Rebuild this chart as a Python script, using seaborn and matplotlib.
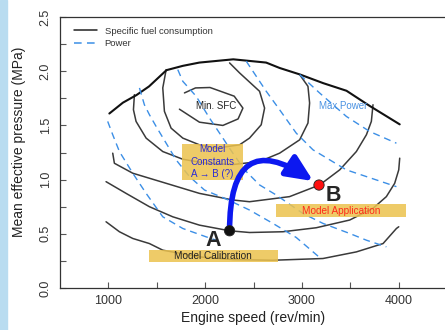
import matplotlib
matplotlib.use("Agg")
import matplotlib.pyplot as plt
import seaborn as sns
import pandas as pd
from matplotlib.lines import Line2D
from matplotlib.patches import Rectangle

# engine map: speed (rev/min) vs mean effective pressure (MPa)

# specific fuel consumption contours
sfc_outer_x = [1010, 1150, 1290, 1420, 1600, 1770, 1940, 2290, 2630, 2770, 2980, 3220, 3460, 3700, 4010]
sfc_outer_y = [1.61, 1.71, 1.78, 1.86, 2.01, 2.05, 2.08, 2.11, 2.08, 2.03, 1.97, 1.89, 1.82, 1.68, 1.51]

sfc_c1_x = [1786, 1900, 2050, 2300, 2390, 2340, 2183, 1941, 1734]
sfc_c1_y = [1.80, 1.846, 1.85, 1.77, 1.66, 1.56, 1.50, 1.53, 1.65]

sfc_c2_x = [1597, 1562, 1579, 1648, 1769, 1941, 2114, 2355, 2458, 2579, 2614, 2562, 2355, 2252]
sfc_c2_y = [2.015, 1.846, 1.63, 1.475, 1.383, 1.321, 1.29, 1.321, 1.383, 1.506, 1.66, 1.815, 1.985, 2.077]

sfc_c3_x = [1269, 1259, 1286, 1390, 1562, 1769, 2010, 2286, 2562, 2769, 2976, 3062, 3079, 3062, 2976]
sfc_c3_y = [1.784, 1.645, 1.537, 1.383, 1.259, 1.188, 1.151, 1.139, 1.167, 1.244, 1.367, 1.522, 1.707, 1.861, 1.969]

sfc_c4_x = [1045, 1062, 1252, 1597, 1941, 2286, 2458, 2872, 3183, 3390, 3562, 3666, 3717, 3734]
sfc_c4_y = [1.244, 1.151, 1.059, 0.966, 0.873, 0.812, 0.796, 0.843, 0.951, 1.09, 1.259, 1.414, 1.537, 1.691]

sfc_c5_x = [976, 1183, 1424, 1665, 1941, 2252, 2459, 2803, 3148, 3493, 3734, 3872, 3958, 4000, 4010]
sfc_c5_y = [0.981, 0.873, 0.75, 0.657, 0.58, 0.528, 0.512, 0.519, 0.556, 0.627, 0.735, 0.843, 0.966, 1.09, 1.198]

sfc_c6_x = [976, 1114, 1252, 1424, 1562, 1941, 2286, 2700, 3217, 3562, 3838, 3976, 4000]
sfc_c6_y = [0.611, 0.519, 0.457, 0.41, 0.349, 0.287, 0.262, 0.256, 0.272, 0.333, 0.41, 0.549, 0.565]

# constant power lines
pow_1_x = [993, 1045, 1114, 1252, 1390, 1562, 1769, 2010, 2114]
pow_1_y = [1.537, 1.414, 1.259, 1.059, 0.873, 0.657, 0.549, 0.472, 0.441]

pow_2_x = [1321, 1372, 1424, 1493, 1597, 1700, 1838, 1993, 2217, 2459, 2700, 2941, 3183]
pow_2_y = [1.846, 1.691, 1.599, 1.491, 1.336, 1.182, 1.028, 0.904, 0.821, 0.719, 0.596, 0.466, 0.281]

pow_3_x = [1717, 1769, 1907, 2045, 2183, 2286, 2407, 2562, 2734, 3010, 3217, 3493, 3666, 3872]
pow_3_y = [2.015, 1.907, 1.769, 1.568, 1.383, 1.244, 1.09, 0.951, 0.858, 0.688, 0.596, 0.503, 0.441, 0.38]

pow_4_x = [2424, 2631, 2769, 2941, 3114, 3459, 3769, 3976]
pow_4_y = [2.093, 1.815, 1.645, 1.429, 1.275, 1.09, 0.997, 0.935]

pow_5_x = [2976, 3183, 3459, 3700, 3976]
pow_5_y = [1.969, 1.799, 1.583, 1.444, 1.336]

# operating points
pt_names = ["A", "B"]
pt_x = [2252, 3176]
pt_y = [0.528, 0.95]

sfc_inner = {"c1": (sfc_c1_x, sfc_c1_y), "c2": (sfc_c2_x, sfc_c2_y), "c3": (sfc_c3_x, sfc_c3_y),
             "c4": (sfc_c4_x, sfc_c4_y), "c5": (sfc_c5_x, sfc_c5_y), "c6": (sfc_c6_x, sfc_c6_y)}
power = {"p1": (pow_1_x, pow_1_y), "p2": (pow_2_x, pow_2_y), "p3": (pow_3_x, pow_3_y),
         "p4": (pow_4_x, pow_4_y), "p5": (pow_5_x, pow_5_y)}


def long_df(curves):
    return pd.concat([pd.DataFrame({"speed": x, "pme": y, "curve": k}) for k, (x, y) in curves.items()],
                     ignore_index=True)


df_sfc = long_df(sfc_inner)
df_pow = long_df(power)
df_outer = pd.DataFrame({"speed": sfc_outer_x, "pme": sfc_outer_y, "curve": "outer"})
df_pts = pd.DataFrame({"name": pt_names, "speed": pt_x, "pme": pt_y})

sns.set_style("ticks")
plt.rcParams["font.family"] = ["Liberation Sans", "DejaVu Sans"]

blue_dash = "#3c8fe6"
fig = plt.figure(figsize=(4.45, 3.3), dpi=100)
ax = fig.add_axes([0.1348, 0.1273, 0.87, 0.821])

# light blue strip on the left edge
fig.patches.append(Rectangle((0, 0), 0.016, 1, transform=fig.transFigure, color="#b9dcf0", zorder=0))

sns.lineplot(data=df_sfc, x="speed", y="pme", units="curve", estimator=None, sort=False,
             color="#3a3a3a", lw=1.1, ax=ax, legend=False, zorder=2)
sns.lineplot(data=df_outer, x="speed", y="pme", estimator=None, sort=False,
             color="#111111", lw=1.5, ax=ax, legend=False, zorder=2)
sns.lineplot(data=df_pow, x="speed", y="pme", units="curve", estimator=None, sort=False,
             color=blue_dash, lw=1.0, linestyle=(0, (5, 3.5)), ax=ax, legend=False, zorder=2)

# yellow label boxes
box_kw = dict(facecolor="#ecc24e", edgecolor="none", alpha=0.85, zorder=3)
ax.add_patch(Rectangle((1762, 0.997), 628, 0.333, **box_kw))
ax.add_patch(Rectangle((2734, 0.657), 1345, 0.118, **box_kw))
ax.add_patch(Rectangle((1417, 0.241), 1335, 0.108, **box_kw))

ax.text(2075, 1.165, "Model\nConstants\nA \u2192 B (?)", ha="center", va="center", fontsize=7,
        color="#2b2bd6", linespacing=1.3, zorder=4)
ax.text(3405, 0.712, "Model Application", ha="center", va="center", fontsize=7.2, color="#ff2a1a", zorder=4)
ax.text(2083, 0.292, "Model Calibration", ha="center", va="center", fontsize=7.2, color="#222222", zorder=4)
ax.text(2114, 1.676, "Min. SFC", ha="center", va="center", fontsize=7, color="#222222", zorder=4)
ax.text(3424, 1.676, "Max Power", ha="center", va="center", fontsize=7, color="#4a92e2", zorder=4)

# arrow A -> B
ax.annotate("", xy=(pt_x[1], pt_y[1]), xytext=(pt_x[0], pt_y[0]),
            arrowprops=dict(arrowstyle="-|>,head_length=0.8,head_width=0.36", mutation_scale=20,
                            connectionstyle="angle3,angleA=90,angleB=-35", lw=4, color="#0c18f0",
                            shrinkA=0, shrinkB=5),
            zorder=5)

sns.scatterplot(data=df_pts, x="speed", y="pme", hue="name", palette={"A": "#111111", "B": "#ff1010"},
                s=55, edgecolor="#222222", linewidth=0.6, ax=ax, legend=False, zorder=6)
ax.text(2079, 0.46, "A", ha="center", va="center_baseline", fontsize=15.5, fontweight="bold", zorder=6)
ax.text(3320, 0.875, "B", ha="center", va="center_baseline", fontsize=15.5, fontweight="bold", zorder=6)

# axes styling
ax.set_xlim(500, 4500)
ax.set_ylim(0, 2.5)
ax.set_xticks([1000, 2000, 3000, 4000])
ax.set_xticks([1500, 2500, 3500], minor=True)
ax.set_yticks([0, 0.5, 1.0, 1.5, 2.0, 2.5])
ax.set_yticks([0.25, 0.75, 1.25, 1.75, 2.25], minor=True)
ax.tick_params(which="both", direction="in", length=4, width=0.8, color="#555555",
               labelsize=9, labelcolor="#333333")
ax.tick_params(axis="x", pad=5)
ax.tick_params(axis="y", pad=6)
for lab in ax.get_yticklabels():
    lab.set_rotation(90)
    lab.set_va("center")
for sp in ["left", "bottom", "top"]:
    ax.spines[sp].set_color("#333333")
    ax.spines[sp].set_linewidth(0.9)
ax.spines["right"].set_visible(False)

ax.set_xlabel("Engine speed (rev/min)", fontsize=10, color="#222222")
ax.set_ylabel("Mean effective pressure (MPa)", fontsize=10, color="#222222")
ax.xaxis.set_label_coords(0.5, -0.085)
ax.yaxis.set_label_coords(-0.088, 0.54)

handles = [Line2D([], [], color="#222222", lw=1.1),
           Line2D([], [], color=blue_dash, lw=1.1, linestyle=(0, (5, 3.5)))]
ax.legend(handles, ["Specific fuel consumption", "Power"], loc="upper left",
          bbox_to_anchor=(0.035, 0.965), frameon=False, fontsize=6.8, handlelength=2.5,
          handletextpad=0.8, labelspacing=0.35, borderpad=0, borderaxespad=0, labelcolor="#333333")

fig.savefig("out.png", dpi=100)
